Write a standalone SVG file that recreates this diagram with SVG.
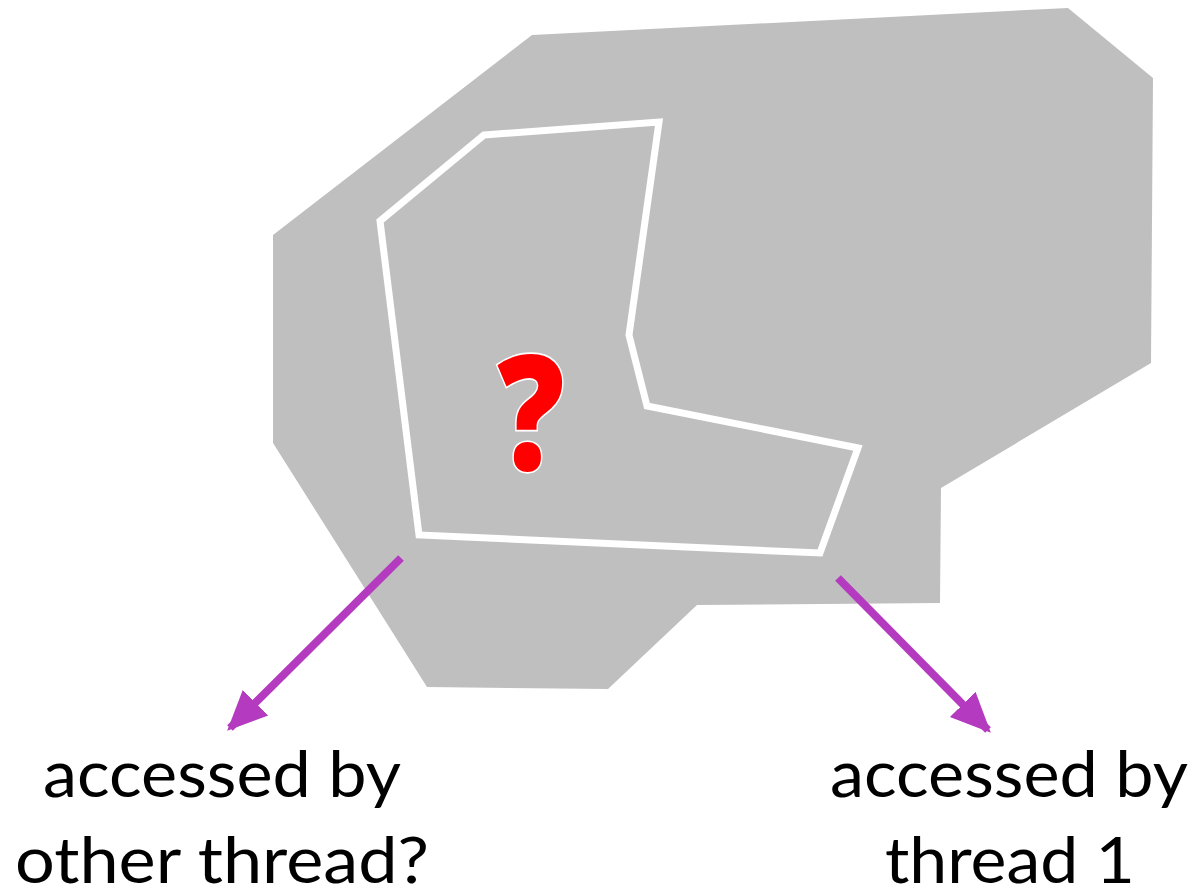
<svg xmlns="http://www.w3.org/2000/svg" width="1194" height="894" viewBox="0 0 1194 894">
  <style>
    .label { font-family: "Lato", "Open Sans", "Liberation Sans", sans-serif; font-size: 64px; fill: #000; text-anchor: middle; }
    .conn { stroke: #b43bbf; stroke-width: 8; fill: none; }
  </style>
  <defs>
    <marker id="arrow" markerUnits="userSpaceOnUse" markerWidth="40" markerHeight="40" viewBox="0 0 40 40" refX="36" refY="20" orient="auto">
      <path d="M0,2 L40,20 L0,38 Z" fill="#b43bbf"/>
    </marker>
  </defs>

  <!-- memory region -->
  <g id="region">
    <polygon points="532,35 1068,8 1153,78 1151,363 941,488 940,603 697,605 608,689 427,687 273,443 273,235" fill="#bfbfbf"/>
  </g>

  <!-- outlined sub-area -->
  <g id="subarea">
    <polygon points="484,135 659,122 629,335 647,406 858,448 820,553 419,535 380,221" fill="none" stroke="#ffffff" stroke-width="7"/>
  </g>

  <!-- question mark -->
  <g id="question" transform="translate(531,470) scale(0.8,0.96)">
    <text x="0" y="0" font-family="'Open Sans', 'Liberation Sans', sans-serif" font-weight="800" font-size="166" fill="#ff0000" stroke="#ffffff" stroke-width="3.5" text-anchor="middle" paint-order="stroke">?</text>
  </g>

  <!-- connectors -->
  <g id="connectors">
    <line class="conn" x1="401" y1="558" x2="230" y2="728" marker-end="url(#arrow)"/>
    <line class="conn" x1="838" y1="578" x2="988" y2="730" marker-end="url(#arrow)"/>
  </g>

  <g id="label-other">
    <text class="label" x="222" y="797" textLength="358" lengthAdjust="spacingAndGlyphs">accessed by</text>
    <text class="label" x="222" y="883" textLength="414" lengthAdjust="spacingAndGlyphs">other thread?</text>
  </g>

  <g id="label-thread1">
    <text class="label" x="1009" y="797" textLength="358" lengthAdjust="spacingAndGlyphs">accessed by</text>
    <text class="label" x="1010" y="883" textLength="250" lengthAdjust="spacingAndGlyphs">thread 1</text>
  </g>
</svg>
